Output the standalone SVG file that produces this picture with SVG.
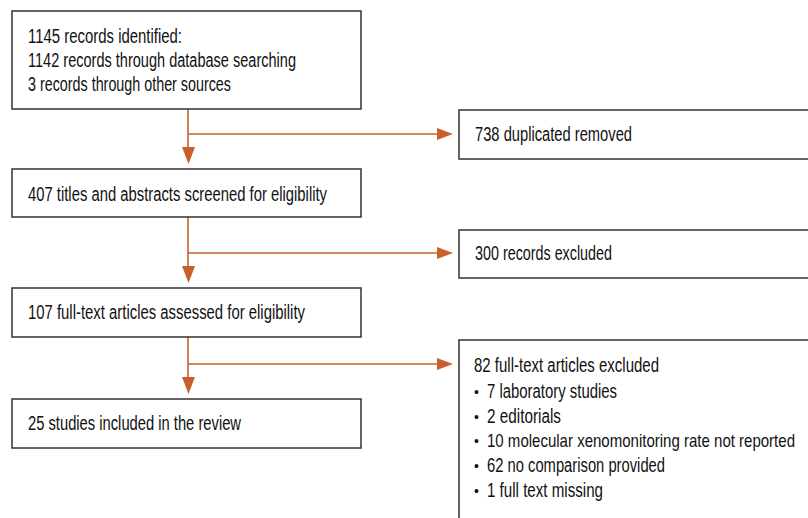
<svg xmlns="http://www.w3.org/2000/svg" width="808" height="518" viewBox="0 0 808 518">
<style>
.box{fill:#fff;stroke:#333;stroke-width:1.5}
.t{font-family:"Liberation Sans Narrow","Liberation Sans",Arial,sans-serif;font-size:19.5px;fill:#111}
.b{font-family:"Liberation Sans",Arial,sans-serif;font-size:14px;fill:#111}
.c{fill:none;stroke:#C8602C;stroke-width:1.6}
.ah{fill:#C8602C}
</style>
<rect width="808" height="518" fill="#fff"/>
<g id="connectors">
<line class="c" x1="188" y1="109" x2="188" y2="148"/>
<line class="c" x1="188" y1="134" x2="438" y2="134"/>
<polygon class="ah" points="182,147 195,147 188.5,164"/>
<polygon class="ah" points="437,128 437,140 453,134"/>
<line class="c" x1="188" y1="217" x2="188" y2="267"/>
<line class="c" x1="188" y1="253" x2="438" y2="253"/>
<polygon class="ah" points="182,266 195,266 188.5,283"/>
<polygon class="ah" points="437,247 437,259 453,253"/>
<line class="c" x1="188" y1="337" x2="188" y2="378"/>
<line class="c" x1="188" y1="364" x2="438" y2="364"/>
<polygon class="ah" points="182,377 195,377 188.5,394"/>
<polygon class="ah" points="437,358 437,370 453,364"/>
</g>
<g id="n1">
<rect class="box" x="12" y="11" width="349" height="98"/>
<text class="t" x="28" y="43" textLength="154" lengthAdjust="spacingAndGlyphs">1145 records identified:</text>
<text class="t" x="28" y="67" textLength="268" lengthAdjust="spacingAndGlyphs">1142 records through database searching</text>
<text class="t" x="28" y="91" textLength="203" lengthAdjust="spacingAndGlyphs">3 records through other sources</text>
</g>
<g id="n2">
<rect class="box" x="12" y="169" width="349" height="48"/>
<text class="t" x="28" y="201" textLength="299" lengthAdjust="spacingAndGlyphs">407 titles and abstracts screened for eligibility</text>
</g>
<g id="n3">
<rect class="box" x="12" y="288" width="349" height="49"/>
<text class="t" x="28" y="319" textLength="277" lengthAdjust="spacingAndGlyphs">107 full-text articles assessed for eligibility</text>
</g>
<g id="n4">
<rect class="box" x="12" y="399" width="349" height="49"/>
<text class="t" x="28" y="430" textLength="213" lengthAdjust="spacingAndGlyphs">25 studies included in the review</text>
</g>
<g id="r1">
<path class="box" d="M808,110 H459 V159 H808"/>
<text class="t" x="475" y="141" textLength="157" lengthAdjust="spacingAndGlyphs">738 duplicated removed</text>
</g>
<g id="r2">
<path class="box" d="M808,230 H459 V278 H808"/>
<text class="t" x="475" y="260" textLength="137" lengthAdjust="spacingAndGlyphs">300 records excluded</text>
</g>
<g id="r3">
<path class="box" d="M808,340 H459 V518"/>
<text class="t" x="474" y="372" textLength="185" lengthAdjust="spacingAndGlyphs">82 full-text articles excluded</text>
<text class="b" x="474" y="397">•</text>
<text class="t" x="487" y="398" textLength="130" lengthAdjust="spacingAndGlyphs">7 laboratory studies</text>
<text class="b" x="474" y="422">•</text>
<text class="t" x="487" y="423" textLength="74" lengthAdjust="spacingAndGlyphs">2 editorials</text>
<text class="b" x="474" y="446">•</text>
<text class="t" x="487" y="447" style="font-size:18.5px" textLength="308" lengthAdjust="spacingAndGlyphs">10 molecular xenomonitoring rate not reported</text>
<text class="b" x="474" y="471">•</text>
<text class="t" x="487" y="472" textLength="178" lengthAdjust="spacingAndGlyphs">62 no comparison provided</text>
<text class="b" x="474" y="496">•</text>
<text class="t" x="487" y="497" textLength="116" lengthAdjust="spacingAndGlyphs">1 full text missing</text>
</g>
</svg>
